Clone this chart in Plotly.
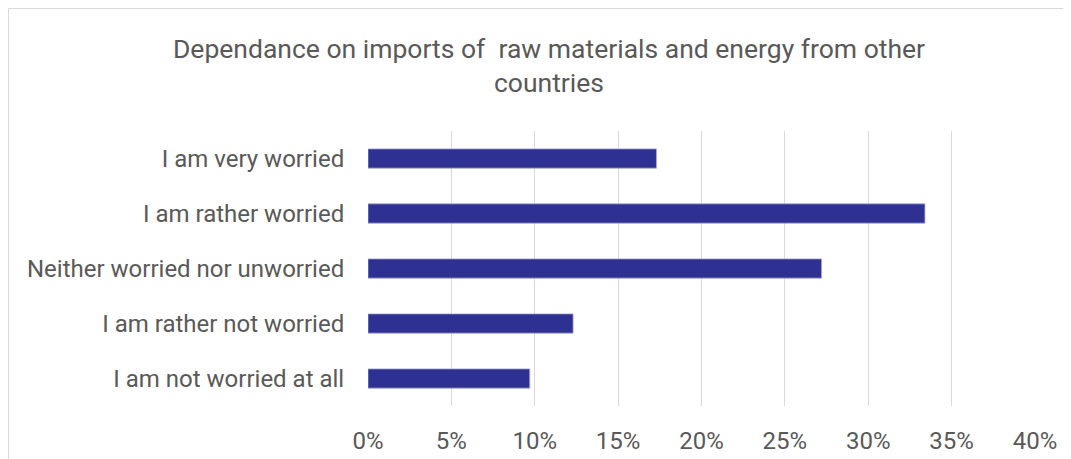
import plotly.graph_objects as go

categories = ["I am very worried", "I am rather worried", "Neither worried nor unworried",
              "I am rather not worried", "I am not worried at all"]
values = [0.173, 0.334, 0.272, 0.123, 0.097]
tick_vals = [0, 0.05, 0.10, 0.15, 0.20, 0.25, 0.30, 0.35, 0.40]
tick_text = ["0%", "5%", "10%", "15%", "20%", "25%", "30%", "35%", "40%"]
title_text = "Dependance on imports of  raw materials and energy from other<br>countries"

W, H = 1071, 459
L, T = 360, 123
PW, PH = 667, 275
R = W - L - PW
B = H - T - PH

fig = go.Figure(go.Bar(
    x=values, y=categories, orientation="h",
    marker=dict(color="#2E3192", line=dict(color="#A9ABD3", width=0.8)),
))

fig.update_layout(
    width=W, height=H,
    margin=dict(l=L, r=R, t=T, b=B),
    paper_bgcolor="white", plot_bgcolor="white",
    font=dict(family="Roboto", color="#595959", size=24),
    bargap=0.65,
    showlegend=False,
    title=dict(text=title_text, x=541 / W, xref="container", xanchor="center",
               y=1 - 50 / H, yref="container", yanchor="top",
               font=dict(size=26.5, color="#595959", family="Roboto")),
    xaxis=dict(range=[0, 0.40], tickvals=tick_vals, ticktext=tick_text,
               showgrid=True, gridcolor="#D9D9D9", gridwidth=1.4,
               zeroline=False, showline=False, ticks="outside", ticklen=13,
               tickcolor="rgba(0,0,0,0)", tickfont=dict(size=24, color="#595959")),
    yaxis=dict(categoryorder="array", categoryarray=categories[::-1],
               autorange=False, range=[-0.5, 4.5],
               showgrid=False, zeroline=False, showline=False,
               ticks="outside", ticklen=18, tickcolor="rgba(0,0,0,0)",
               tickfont=dict(size=24, color="#595959")),
    shapes=[dict(type="rect", xref="paper", yref="paper",
                 x0=(0.5 - L) / PW, x1=(W + 10 - L) / PW,
                 y0=(PH - (H + 10 - T)) / PH, y1=(PH + T - 0.5) / PH,
                 line=dict(color="#D9D9D9", width=1), fillcolor="rgba(0,0,0,0)",
                 layer="below")],
)

fig.write_html("out.html")
